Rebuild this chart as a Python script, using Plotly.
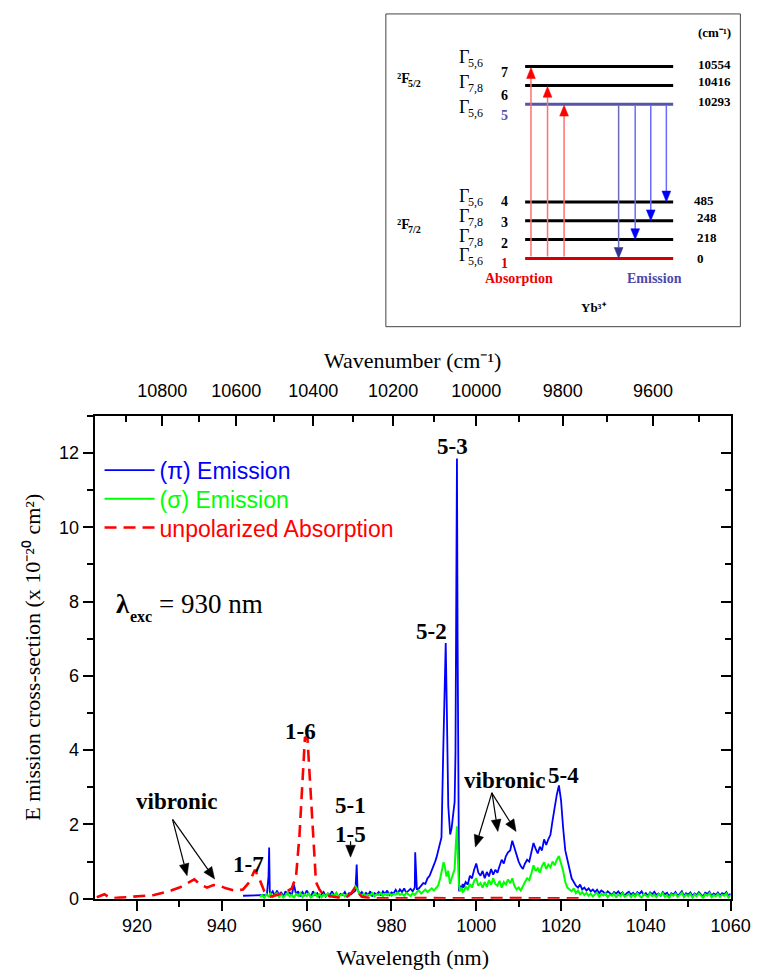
import math
import numpy as np
import plotly.graph_objects as go

W, H = 766, 972
STEP = 0.5

# ---------------- data ----------------
# (pi) emission: noise grid 951.5..989.5 nm (0.5 nm step)
pi_grid1_start = 951.5
pi_grid1 = [0.12, 0.20, 0.08, 0.22, 0.10, 0.18, 0.05, 0.20, 0.12, 0.17,
            0.10, 0.38, 0.12, 0.20, 0.06, 0.18, 0.10, 0.22, 0.12, 0.05,
            0.20, 0.10, 0.15, 0.04, 0.12, 0.18, 0.06, 0.14, 0.10, 0.20,
            0.08, 0.15, 0.05, 0.13, 0.10, 0.18, 0.07, 0.15, 0.12, 0.16,
            0.22, 0.25, 0.12, 0.18, 0.08, 0.16, 0.10, 0.20, 0.06, 0.15,
            0.12, 0.18, 0.09, 0.20, 0.13, 0.22, 0.10, 0.17, 0.14, 0.24,
            0.15, 0.25, 0.18, 0.28, 0.16, 0.22, 0.27, 0.20, 0.30, 0.24,
            0.28, 0.35, 0.42, 0.40, 0.55, 0.62, 0.75]
# (pi) emission: main peaks 5-2 / 5-3
pi_core_wl = [990.0, 990.3, 990.6, 991.0, 991.4, 991.8, 992.2, 992.5, 992.8, 993.1,
              993.4, 993.85, 994.2, 994.6, 994.9, 995.1, 995.3, 995.45, 995.6, 995.75,
              995.95, 996.2, 996.5, 996.8]
pi_core_val = [0.88, 1.00, 1.10, 1.30, 1.45, 1.65, 3.90, 5.80, 6.88, 4.80,
               2.50, 1.73, 1.90, 2.32, 2.60, 3.90, 8.40, 11.85, 7.00, 1.50,
               0.20, 0.35, 0.25, 0.40]
# (pi) emission: grid 997..1060 nm
pi_grid2_start = 997.0
pi_grid2 = [0.30, 0.45, 0.38, 0.62, 0.55, 0.78, 0.95, 0.70, 0.62, 0.75,
            0.55, 0.72, 0.60, 0.80, 0.65, 0.78, 0.70, 0.88, 1.05, 0.95,
            1.15, 1.25, 1.30, 1.56, 1.35, 1.20, 1.00, 0.88, 0.80, 0.95,
            1.05, 1.00, 1.25, 1.50, 1.35, 1.22, 1.40, 1.30, 1.60, 1.45,
            1.60, 1.72, 2.10, 2.50, 2.80, 3.05, 2.65, 1.90, 1.30, 1.05,
            0.80, 0.55, 0.45, 0.35, 0.30, 0.38, 0.25, 0.30, 0.22, 0.28,
            0.20, 0.25, 0.18, 0.24, 0.15, 0.22, 0.18, 0.12, 0.20, 0.16,
            0.10, 0.18, 0.14, 0.20, 0.12, 0.17, 0.08, 0.15, 0.19, 0.11,
            0.16, 0.09, 0.18, 0.13, 0.20, 0.10, 0.15, 0.07, 0.17, 0.12,
            0.19, 0.10, 0.14, 0.08, 0.18, 0.12, 0.16, 0.06, 0.15, 0.11,
            0.18, 0.09, 0.13, 0.20, 0.07, 0.15, 0.11, 0.17, 0.08, 0.14,
            0.10, 0.18, 0.12, 0.06, 0.16, 0.13, 0.19, 0.08, 0.14, 0.10,
            0.17, 0.09, 0.15, 0.12, 0.18, 0.07, 0.14]
# (pi) emission: isolated spikes / start segment
pi_extra_wl = [945.0, 950.6, 951.0, 951.15, 951.3, 971.8, 985.6]
pi_extra_val = [0.08, 0.10, 0.60, 1.38, 0.20, 0.92, 1.25]

# (sigma) emission
sigma_grid1_start = 949.0
sigma_grid1 = [0.05, 0.10, 0.02, 0.12, 0.06, 0.14, 0.04, 0.10, 0.15, 0.05,
               0.12, 0.03, 0.10, 0.16, 0.06, 0.11, 0.02, 0.13, 0.08, 0.15,
               0.04, 0.12, 0.07, 0.14, 0.03, 0.10, 0.15, 0.06, 0.12, 0.04,
               0.11, 0.07, 0.14, 0.05, 0.12, 0.08, 0.16, 0.04, 0.10, 0.13,
               0.06, 0.12, 0.08, 0.15, 0.22, 0.33, 0.25, 0.12, 0.08, 0.14,
               0.05, 0.11, 0.09, 0.15, 0.06, 0.12, 0.10, 0.16, 0.07, 0.13,
               0.09, 0.15, 0.08, 0.13, 0.11, 0.17, 0.10, 0.14, 0.08, 0.16,
               0.12, 0.07, 0.15, 0.10, 0.18, 0.22, 0.14, 0.20, 0.25, 0.18,
               0.24, 0.28]
sigma_core_wl = [990.0, 990.5, 991.0, 991.5, 991.9, 992.3, 992.6, 993.0, 993.4, 993.8,
                 994.2, 994.6, 994.9, 995.2, 995.45, 995.7, 995.9, 996.2, 996.5, 996.8]
sigma_core_val = [0.22, 0.30, 0.35, 0.55, 0.75, 0.98, 0.85, 0.60, 0.75, 0.40,
                  0.55, 0.70, 0.80, 1.50, 1.95, 1.00, 0.40, 0.20, 0.30, 0.18]
sigma_grid2_start = 997.0
sigma_grid2 = [0.20, 0.32, 0.25, 0.40, 0.30, 0.48, 0.55, 0.35, 0.42, 0.30,
               0.45, 0.32, 0.50, 0.38, 0.55, 0.40, 0.35, 0.48, 0.30, 0.45,
               0.38, 0.52, 0.42, 0.55, 0.35, 0.25, 0.30, 0.22, 0.35, 0.45,
               0.55, 0.50, 0.68, 0.90, 0.75, 0.82, 0.70, 0.88, 0.98, 0.80,
               0.92, 0.85, 1.00, 0.90, 1.05, 1.15, 0.95, 0.75, 0.45, 0.30,
               0.25, 0.20, 0.28, 0.15, 0.22, 0.12, 0.18, 0.10, 0.16, 0.08,
               0.14, 0.06, 0.12, 0.16, 0.05, 0.13, 0.09, 0.15, 0.04, 0.11,
               0.08, 0.14, 0.03, 0.12, 0.07, 0.15, 0.05, 0.10, 0.13, 0.04,
               0.12, 0.06, 0.15, 0.08, 0.03, 0.13, 0.10, 0.05, 0.14, 0.07,
               0.11, 0.04, 0.13, 0.09, 0.15, 0.05, 0.10, 0.02, 0.12, 0.08,
               0.14, 0.05, 0.10, 0.16, 0.04, 0.11, 0.07, 0.13, 0.03, 0.12,
               0.06, 0.14, 0.09, 0.02, 0.12, 0.08, 0.15, 0.04, 0.10, 0.06,
               0.13, 0.05, 0.11, 0.08, 0.14, 0.03, 0.10]

# unpolarized absorption
abs_wl = [910.5, 911.5, 912.3, 913.2, 914.5, 916.0, 918.0, 920.0, 922.0, 924.0,
          926.0, 928.0, 930.0, 932.0, 933.5, 935.0, 936.5, 938.0, 939.5, 941.0,
          943.0, 945.0, 946.5, 947.8, 948.8, 950.0, 951.5, 953.0, 955.0, 956.5,
          957.5, 958.3, 959.0, 959.6, 960.2, 960.8, 961.5, 962.2, 963.0, 964.0,
          966.0, 968.0, 969.5, 970.5, 971.3, 972.0, 973.0, 975.0, 978.0, 982.0,
          986.0, 990.0, 995.0, 1000.0, 1005.0, 1010.0, 1015.0, 1020.0, 1025.0]
abs_val = [0.04, 0.08, 0.12, 0.05, 0.02, 0.03, 0.04, 0.05, 0.08, 0.10,
           0.15, 0.22, 0.30, 0.42, 0.52, 0.38, 0.30, 0.37, 0.35, 0.28,
           0.22, 0.25, 0.45, 0.78, 0.55, 0.20, 0.06, 0.10, 0.18, 0.28,
           0.60, 1.70, 3.00, 4.35, 4.30, 3.20, 1.60, 0.45, 0.25, 0.10,
           0.06, 0.02, 0.05, 0.15, 0.28, 0.20, 0.05, 0.02, 0.01, 0.02,
           0.03, 0.02, 0.01, 0.02, 0.01, 0.02, 0.01, 0.02, 0.01]

# axis ticks
wl_major = [920, 940, 960, 980, 1000, 1020, 1040, 1060]
wl_minor = [930, 950, 970, 990, 1010, 1030, 1050]
wn_major = [10800, 10600, 10400, 10200, 10000, 9800, 9600]
wn_minor = [10900, 10700, 10500, 10300, 10100, 9900, 9700, 9500]
y_major = [0, 2, 4, 6, 8, 10, 12]
y_minor = [1, 3, 5, 7, 9, 11, 13]

# energy-level inset (Yb3+)
level_num = [1, 2, 3, 4, 5, 6, 7]
level_energy = [0, 218, 248, 485, 10293, 10416, 10554]
level_gamma = ["5,6", "7,8", "7,8", "5,6", "5,6", "7,8", "5,6"]
absorption_to = [7, 6, 5]
emission_to = [1, 2, 3, 4]


def build(parts):
    wl, val = [], []
    for kind, a, b in parts:
        if kind == "grid":
            wl += list(a + STEP * np.arange(len(b)))
            val += list(b)
        else:
            wl += list(a)
            val += list(b)
    order = np.argsort(wl, kind="stable")
    return np.array(wl)[order], np.array(val)[order]


pi_x, pi_y = build([("grid", pi_grid1_start, pi_grid1), ("pts", pi_core_wl, pi_core_val),
                    ("grid", pi_grid2_start, pi_grid2), ("pts", pi_extra_wl, pi_extra_val)])
si_x, si_y = build([("grid", sigma_grid1_start, sigma_grid1), ("pts", sigma_core_wl, sigma_core_val),
                    ("grid", sigma_grid2_start, sigma_grid2)])

SERIF = "Liberation Serif"
SANS = "Liberation Sans"
BLUE, GREEN, RED = "#0000ff", "#00ff00", "#ff0000"


def P(x):
    return x / W


def Q(y):
    return 1 - y / H


fig = go.Figure()
fig.add_trace(go.Scatter(x=pi_x, y=pi_y, mode="lines", line=dict(color=BLUE, width=1.8),
                         name="(π) Emission", legend="legend"))
fig.add_trace(go.Scatter(x=si_x, y=si_y, mode="lines", line=dict(color=GREEN, width=2),
                         name="(σ) Emission", legend="legend2"))
fig.add_trace(go.Scatter(x=abs_wl, y=abs_val, mode="lines",
                         line=dict(color=RED, width=2.6, dash="12px,7px"),
                         name="unpolarized Absorption", legend="legend3"))
# carrier for top / right axes
fig.add_trace(go.Scatter(x=[910, 1060], y=[0, 0], xaxis="x2", yaxis="y2", mode="lines",
                         line=dict(width=0), showlegend=False, hoverinfo="skip"))

# pixel geometry of the plot area
X0, X1, Y0, Y1 = 89, 742, 412, 900
XR = [910, 1060]
YR = [0, 13]
axis_common = dict(showline=True, linecolor="black", linewidth=2, showgrid=False, zeroline=False,
                   tickcolor="black", tickwidth=2, ticklen=10,
                   tickfont=dict(family=SANS, size=18, color="black"))
minor_common = dict(tickmode="array", ticklen=6, tickwidth=2, tickcolor="black")


def leg(row_y, color):
    return dict(x=P(94), y=Q(row_y), xanchor="left", yanchor="middle", itemwidth=50,
                font=dict(family=SANS, size=23, color=color), bgcolor="rgba(0,0,0,0)", borderwidth=0)


fig.update_layout(
    width=W, height=H, margin=dict(l=0, r=0, t=0, b=0),
    paper_bgcolor="white", plot_bgcolor="white",
    xaxis=dict(domain=[X0 / W, X1 / W], range=XR, anchor="y",
               tickmode="array", tickvals=wl_major, ticks="outside",
               minor=dict(tickvals=wl_minor, ticks="outside", **minor_common),
               title=dict(text="Wavelength (nm)", font=dict(family=SERIF, size=22, color="black"), standoff=14),
               **axis_common),
    yaxis=dict(domain=[1 - Y1 / H, 1 - Y0 / H], range=YR, anchor="x",
               tickmode="array", tickvals=y_major, ticks="outside",
               minor=dict(tickvals=y_minor, ticks="outside", **minor_common),
               title=dict(text="E mission cross-section (x 10⁻²⁰ cm²)",
                          font=dict(family=SERIF, size=22, color="black"), standoff=12),
               **axis_common),
    xaxis2=dict(overlaying="x", side="top", anchor="y2", range=XR,
                tickmode="array", tickvals=[1e7 / w for w in wn_major], ticktext=[str(w) for w in wn_major],
                ticks="inside", ticklabelstandoff=10,
                minor=dict(tickvals=[1e7 / w for w in wn_minor], ticks="inside", **minor_common),
                title=dict(text="Wavenumber (cm⁻¹)", font=dict(family=SERIF, size=22, color="black"),
                           standoff=6),
                **axis_common),
    yaxis2=dict(overlaying="y", side="right", anchor="x2", range=YR, showticklabels=False,
                tickmode="array", tickvals=y_major, ticks="inside",
                minor=dict(tickvals=y_minor, ticks="inside", **minor_common),
                **axis_common),
    legend=leg(467, BLUE),
    legend2=leg(496, GREEN),
    legend3=leg(525, RED),
    showlegend=True,
)


def px(v):
    return (v - XR[0]) * (X1 - X0) / (XR[1] - XR[0]) + X0


def py(v):
    return Y1 - (v - YR[0]) * (Y1 - Y0) / (YR[1] - YR[0])


shapes = []


def arrow(tx, ty, hx, hy, shaft_color, head_color, width, head_len, head_w):
    """Arrow from tail (tx,ty) to head (hx,hy), figure pixels (y down)."""
    dx, dy = hx - tx, hy - ty
    L = math.hypot(dx, dy)
    ux, uy = dx / L, dy / L
    bx, by = hx - ux * head_len, hy - uy * head_len
    shapes.append(dict(type="line", xref="paper", yref="paper", x0=P(tx), y0=Q(ty), x1=P(bx), y1=Q(by),
                       line=dict(color=shaft_color, width=width)))
    lx, ly = bx - uy * head_w, by + ux * head_w
    rx, ry = bx + uy * head_w, by - ux * head_w
    path = f"M {P(hx)},{Q(hy)} L {P(lx)},{Q(ly)} L {P(rx)},{Q(ry)} Z"
    shapes.append(dict(type="path", xref="paper", yref="paper", path=path,
                       fillcolor=head_color, line=dict(color=head_color, width=0.5)))


ann = []
bold_font = dict(family=SERIF, size=23, color="black", weight="bold")
labels = [("5-3", 994.3, 12.16), ("5-2", 989.5, 7.2), ("1-6", 958.6, 4.5), ("5-1", 970.35, 2.5),
          ("1-5", 970.35, 1.73), ("1-7", 946.4, 0.93), ("vibronic", 929.4, 2.61),
          ("vibronic", 1006.7, 3.17), ("5-4", 1020.6, 3.33)]
for t, x, y in labels:
    ann.append(dict(text=t, x=x, y=y, xref="x", yref="y", xanchor="center", yanchor="middle",
                    showarrow=False, font=bold_font))
# lambda_exc = 930 nm  (bold lambda with bold subscript, regular rest)
ann.append(dict(text="λ", x=914.6, y=7.92, xref="x", yref="y", xanchor="left", yanchor="middle",
                showarrow=False, font=dict(family=SERIF, size=27, color="black", weight="bold")))
ann.append(dict(text="exc", x=917.9, y=7.6, xref="x", yref="y", xanchor="left", yanchor="middle",
                showarrow=False, font=dict(family=SERIF, size=16, color="black", weight="bold")))
ann.append(dict(text="= 930 nm", x=924.6, y=7.92, xref="x", yref="y", xanchor="left", yanchor="middle",
                showarrow=False, font=dict(family=SERIF, size=27, color="black")))
# pointer arrows: head at a data point (wavelength, value), tail offset in pixels
pointers = [(970.35, 1.12, 0, -16), (931.8, 0.62, -15, -57), (938.3, 0.53, -43, -60),
            (999.8, 1.39, 17, -55), (1005.1, 1.81, -6, -39), (1009.4, 1.81, -25, -39)]
for x, y, ox, oy in pointers:
    hx, hy = px(x), py(y)
    arrow(hx + ox, hy + oy, hx, hy, "black", "black", 1.2, 12, 5)

# ---------------- inset energy diagram (paper == figure pixels) ----------------
shapes.insert(0, dict(type="rect", xref="paper", yref="paper", x0=P(388), x1=P(752), y0=Q(322), y1=Q(6),
                      line=dict(color="#444444", width=1), fillcolor="white", layer="below"))

base_y, gap = 253, 19
slot = {1: 0, 2: 1, 3: 2, 4: 3, 5: 8.2, 6: 9.2, 7: 10.2}
lvl_y = {n: base_y - gap * slot[n] for n in level_num}
lvl_color = {n: "black" for n in level_num}
lvl_color[1] = "#d40000"
lvl_color[5] = "#5555aa"
for n in level_num:
    shapes.append(dict(type="line", xref="paper", yref="paper", x0=P(531), x1=P(683),
                       y0=Q(lvl_y[n]), y1=Q(lvl_y[n]), line=dict(color=lvl_color[n], width=3)))


def itext(text, x, y, size, color="black", bold=False, xanchor="center"):
    f = dict(family=SERIF, size=size, color=color)
    if bold:
        f["weight"] = "bold"
    ann.append(dict(text=text, x=P(x), y=Q(y), xref="paper", yref="paper", xanchor=xanchor,
                    yanchor="middle", showarrow=False, font=f, borderpad=0))


num_dy = {1: 5, 2: 4, 3: 2, 4: 0, 5: 11, 6: 10, 7: 6}
num_color = {n: "black" for n in level_num}
num_color[1] = "#d40000"
num_color[5] = "#5555aa"
gamma_y = {7: 50, 6: 75, 5: 100, 4: 190, 3: 210, 2: 230, 1: 250}
en_x = {7: 725, 6: 725, 5: 725, 4: 715, 3: 718, 2: 718, 1: 711}
en_y = {7: 57, 6: 74, 5: 94, 4: 194, 3: 212, 2: 232, 1: 253}
for i, n in enumerate(level_num):
    itext(str(n), 510, lvl_y[n] + num_dy[n], 14, num_color[n], bold=True)
    itext("Γ", 474, gamma_y[n], 18, xanchor="right")
    itext(level_gamma[i], 471, gamma_y[n] + 6, 12, xanchor="left")
    itext(str(level_energy[i]), en_x[n], en_y[n], 13, bold=True)

itext("(cm⁻¹)", 725, 25, 13, bold=True)
for yy, sub in [(72, "5/2"), (220, "7/2")]:
    itext("²F", 414, yy - 1, 14, bold=True, xanchor="right")
    itext(sub, 410, yy + 4, 10, bold=True, xanchor="left")
itext("Absorption", 525, 273, 14, "#ee0000", bold=True)
itext("Emission", 664, 273, 14, "#4a4aaa", bold=True)
itext("Yb³⁺", 602, 303, 13, bold=True)

abs_x = [537, 554, 571]
for x, n in zip(abs_x, absorption_to):
    arrow(x, lvl_y[1] - 2, x, lvl_y[n] + 1, "#ff7070", "#ff0000", 1.5, 11, 4.5)
em_x = [627, 644, 660, 676]
em_shaft = ["#6a6ab0", "#6a6aff", "#6a6aff", "#6a6aff"]
em_head = ["#33338f", "#0000ff", "#0000ff", "#0000ff"]
for x, n, sc, hc in zip(em_x, emission_to, em_shaft, em_head):
    arrow(x, lvl_y[5] + 1, x, lvl_y[n], sc, hc, 1.5, 11, 4.5)

fig.update_layout(annotations=ann, shapes=shapes)
fig.write_html("out.html")
